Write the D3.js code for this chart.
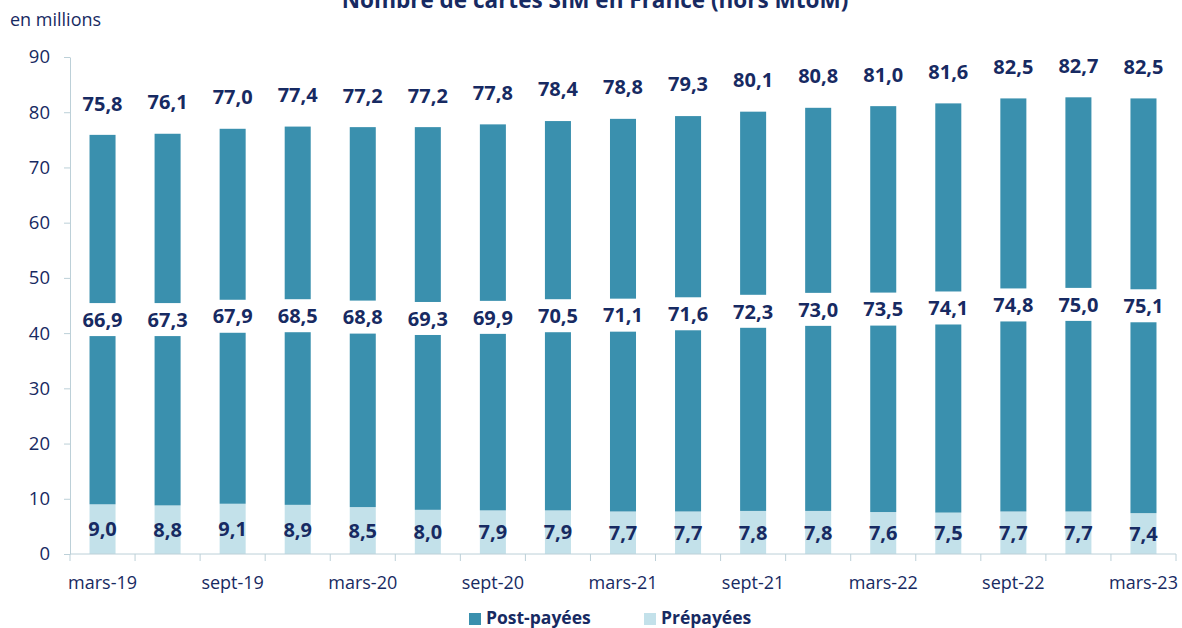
<!DOCTYPE html>
<html>
<head>
<meta charset="utf-8">
<script src="https://cdn.jsdelivr.net/npm/d3@7"></script>
<style>
  body { margin: 0; background: #fff; }
  svg { display: block; font-family: "Open Sans", sans-serif; }
</style>
</head>
<body>
<div id="chart"></div>
<script>
// Quarterly SIM card counts (millions)
const quarters = ['mars-19', 'juin-19', 'sept-19', 'déc-19', 'mars-20', 'juin-20', 'sept-20', 'déc-20',
    'mars-21', 'juin-21', 'sept-21', 'déc-21', 'mars-22', 'juin-22', 'sept-22', 'déc-22', 'mars-23'];
const postPayees = [66.9, 67.3, 67.9, 68.5, 68.8, 69.3, 69.9, 70.5, 71.1, 71.6, 72.3, 73.0, 73.5, 74.1, 74.8, 75.0, 75.1];
const prepayees = [9.0, 8.8, 9.1, 8.9, 8.5, 8.0, 7.9, 7.9, 7.7, 7.7, 7.8, 7.8, 7.6, 7.5, 7.7, 7.7, 7.4];
const totals = [75.8, 76.1, 77.0, 77.4, 77.2, 77.2, 77.8, 78.4, 78.8, 79.3, 80.1, 80.8, 81.0, 81.6, 82.5, 82.7, 82.5];
const yTicks = [0, 10, 20, 30, 40, 50, 60, 70, 80, 90];

const width = 1182;
const height = 628;
const navy = '#172a62';
const dark = '#3a90ae';
const light = '#c3e1ea';
const axisColor = '#bcd0d8';

const fmt = v => d3.format('.1f')(v).replace('.', ',');

const rows = quarters.map((q, i) => ({ q, pre: prepayees[i], post: postPayees[i], total: totals[i] }));

const svg = d3.select('#chart')
    .append('svg')
    .attr('width', width)
    .attr('height', height);

const x = d3.scaleBand()
    .domain(quarters)
    .range([70, 1176])
    .paddingInner(0.6)
    .paddingOuter(0.3);

const y = d3.scaleLinear()
    .domain([0, 90])
    .range([554, 57]);

// Title (cut off at the top, as in the source)
svg.append('text')
    .attr('x', 595)
    .attr('y', 8)
    .attr('text-anchor', 'middle')
    .style('font-size', '22.5px')
    .style('font-weight', 'bold')
    .style('fill', navy)
    .text('Nombre de cartes SIM en France (hors MtoM)');

svg.append('text')
    .attr('x', 10)
    .attr('y', 26)
    .style('font-size', '18px')
    .style('fill', navy)
    .text('en millions');

// Stacked bars
const stack = d3.stack().keys(['pre', 'post'])(rows);
const colors = { pre: light, post: dark };

svg.append('g')
    .selectAll('g')
    .data(stack)
    .enter()
    .append('g')
    .style('fill', d => colors[d.key])
    .selectAll('rect')
    .data(d => d)
    .enter()
    .append('rect')
    .attr('x', d => x(d.data.q))
    .attr('width', x.bandwidth())
    .attr('y', d => y(d[1]))
    .attr('height', d => y(d[0]) - y(d[1]));

// Post-payées labels with white box over the bar
const postLbl = svg.append('g')
    .selectAll('g')
    .data(rows)
    .enter()
    .append('g')
    .attr('transform', d => `translate(${x(d.q) + x.bandwidth() / 2}, ${y(d.pre + d.post / 2)})`);

postLbl.append('rect')
    .attr('x', -26)
    .attr('y', -16.5)
    .attr('width', 52)
    .attr('height', 33)
    .style('fill', '#fff');

postLbl.append('text')
    .attr('text-anchor', 'middle')
    .attr('dy', '0.36em')
    .style('font-size', '20px')
    .style('font-weight', 'bold')
    .style('fill', navy)
    .text(d => fmt(d.post));

// Prépayées labels
svg.append('g')
    .selectAll('text')
    .data(rows)
    .enter()
    .append('text')
    .attr('x', d => x(d.q) + x.bandwidth() / 2)
    .attr('y', d => y(d.pre / 2))
    .attr('dy', '0.36em')
    .attr('text-anchor', 'middle')
    .style('font-size', '20px')
    .style('font-weight', 'bold')
    .style('fill', navy)
    .text(d => fmt(d.pre));

// Total labels
svg.append('g')
    .selectAll('text')
    .data(rows)
    .enter()
    .append('text')
    .attr('x', d => x(d.q) + x.bandwidth() / 2)
    .attr('y', d => y(d.total) - 32)
    .attr('dy', '0.36em')
    .attr('text-anchor', 'middle')
    .style('font-size', '20px')
    .style('font-weight', 'bold')
    .style('fill', navy)
    .text(d => fmt(d.total));

// Y axis
const yAxis = svg.append('g')
    .attr('transform', 'translate(70,0)')
    .call(d3.axisLeft(y).tickValues(yTicks).tickSize(6).tickPadding(14).tickSizeOuter(0));
yAxis.select('.domain').style('stroke', axisColor);
yAxis.selectAll('line').style('stroke', axisColor);
yAxis.selectAll('text')
    .style('font-size', '18.5px')
    .style('font-family', '"Open Sans", sans-serif')
    .style('fill', navy);

// X axis: ticks at band boundaries, labels every other quarter
const xAxis = svg.append('g').attr('transform', `translate(0,${y(0)})`);
xAxis.append('line')
    .attr('x1', 70)
    .attr('x2', 1176)
    .style('stroke', axisColor);
const bounds = d3.range(quarters.length + 1).map(i => 70 + i * (1106 / quarters.length));
xAxis.selectAll('.tick')
    .data(bounds)
    .enter()
    .append('line')
    .attr('x1', d => d)
    .attr('x2', d => d)
    .attr('y1', 0)
    .attr('y2', 7)
    .style('stroke', axisColor);
xAxis.selectAll('.lbl')
    .data(quarters.filter((q, i) => i % 2 === 0))
    .enter()
    .append('text')
    .attr('x', d => x(d) + x.bandwidth() / 2)
    .attr('y', 35)
    .attr('text-anchor', 'middle')
    .style('font-size', '18px')
    .style('fill', navy)
    .text(d => d);

// Legend
const legendItems = [
    { name: 'Post-payées', color: dark, x: 469 },
    { name: 'Prépayées', color: light, x: 644 }
];
const legend = svg.append('g')
    .selectAll('g')
    .data(legendItems)
    .enter()
    .append('g')
    .attr('transform', d => `translate(${d.x}, 613)`);
legend.append('rect')
    .attr('width', 12)
    .attr('height', 12)
    .style('fill', d => d.color);
legend.append('text')
    .attr('x', 17)
    .attr('y', 11)
    .style('font-size', '17.5px')
    .style('font-weight', 'bold')
    .style('fill', navy)
    .text(d => d.name);
</script>
</body>
</html>
